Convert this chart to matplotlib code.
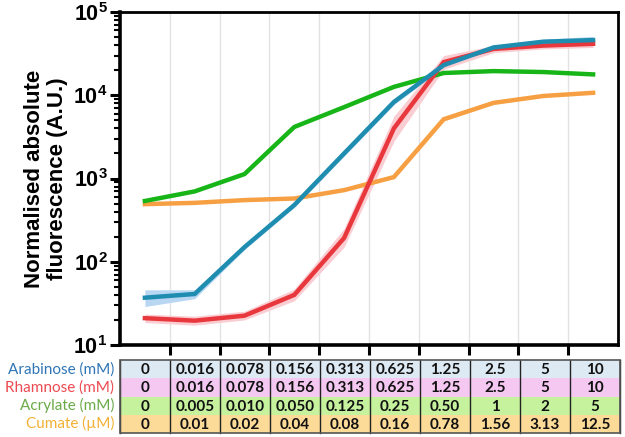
import matplotlib
matplotlib.use("Agg")
import matplotlib.pyplot as plt
from matplotlib.patches import Rectangle
from matplotlib.ticker import FixedLocator, LogLocator, NullFormatter, FuncFormatter
import numpy as np

# ---- data ----
arabinose = [37, 41, 150, 480, 2000, 8300, 23000, 37500, 44000, 46000]
arabinose_lo = [29, 36, 140, 450, 1850, 7700, 21500, 35500, 41500, 43000]
arabinose_hi = [46, 46, 160, 510, 2150, 8900, 24500, 39500, 47000, 51000]
rhamnose = [21, 19.6, 22.5, 40, 193, 4000, 25000, 36000, 39500, 41500]
rhamnose_lo = [18.6, 17.3, 20, 34, 150, 2800, 20500, 32500, 36000, 37500]
rhamnose_hi = [23.5, 22.2, 25.5, 47, 250, 5600, 30000, 39500, 43000, 45500]
acrylate = [537, 700, 1130, 4160, 7200, 12600, 18500, 19500, 19000, 17800]
cumate = [492, 510, 550, 575, 725, 1040, 5150, 8100, 9800, 10700]
cumate_lo = [480, 498, 537, 562, 705, 1010, 4900, 7800, 9500, 10400]
cumate_hi = [505, 522, 563, 588, 745, 1070, 5400, 8400, 10100, 11000]

row_labels = ["Arabinose (mM)", "Rhamnose (mM)", "Acrylate (mM)", "Cumate (µM)"]
table_values = [
    ["0", "0.016", "0.078", "0.156", "0.313", "0.625", "1.25", "2.5", "5", "10"],
    ["0", "0.016", "0.078", "0.156", "0.313", "0.625", "1.25", "2.5", "5", "10"],
    ["0", "0.005", "0.010", "0.050", "0.125", "0.25", "0.50", "1", "2", "5"],
    ["0", "0.01", "0.02", "0.04", "0.08", "0.16", "0.78", "1.56", "3.13", "12.5"],
]
ylabel = "Normalised absolute\nfluorescence (A.U.)"

# ---- style ----
plt.rcParams['font.family'] = ['Liberation Sans', 'DejaVu Sans']
plt.rcParams['mathtext.fontset'] = 'custom'
plt.rcParams['mathtext.rm'] = 'Liberation Sans:bold'
plt.rcParams['mathtext.bf'] = 'Liberation Sans:bold'
plt.rcParams['mathtext.it'] = 'Liberation Sans:bold'

c_blue = '#1f8db0'
c_red = '#e8383d'
c_green = '#17b517'
c_orange = '#f7a043'
band_blue = '#b9d7f3'
band_red = '#f9cdd2'
band_orange = '#fbd7b0'

cell_colors = ['#dde9f3', '#f5c8f2', '#c6f29e', '#fcda98']
label_colors = ['#2e75b6', '#ee4a52', '#6aab48', '#f2b134']

fig = plt.figure(figsize=(6.25, 4.37), dpi=100)
ax = fig.add_axes([120/625, 1-345/437, 498/625, 333/437])

x = np.arange(10)
ax.fill_between(x, arabinose_lo, arabinose_hi, color=band_blue, lw=0, zorder=2)
ax.fill_between(x, rhamnose_lo, rhamnose_hi, color=band_red, lw=0, zorder=2)
ax.fill_between(x, cumate_lo, cumate_hi, color=band_orange, lw=0, zorder=2)
ax.plot(x, cumate, color=c_orange, lw=3.2, zorder=3, solid_joinstyle='miter')
ax.plot(x, acrylate, color=c_green, lw=3.2, zorder=3, solid_joinstyle='miter')
ax.plot(x, rhamnose, color=c_red, lw=3.2, zorder=4, solid_joinstyle='miter')
ax.plot(x, arabinose, color=c_blue, lw=3.2, zorder=5, solid_joinstyle='miter')

ax.set_yscale('log')
ax.set_ylim(10, 1e5)
ax.set_xlim(-0.5, 9.5)
ax.xaxis.set_major_locator(FixedLocator(np.arange(0.5, 9.5, 1)))
ax.set_xticklabels([])
ax.grid(axis='x', color='#e2e2e2', lw=1, zorder=0)
ax.yaxis.set_major_locator(LogLocator(base=10, numticks=10))
ax.yaxis.set_major_formatter(FuncFormatter(
    lambda v, p: r'$\mathbf{10^{%d}}$' % int(round(np.log10(v)))))
ax.yaxis.set_minor_locator(LogLocator(base=10, subs=np.arange(2, 10), numticks=10))
ax.yaxis.set_minor_formatter(NullFormatter())
ax.tick_params(axis='y', which='major', length=7, width=2.2, labelsize=15.5, pad=2)
ax.tick_params(axis='y', which='minor', length=4, width=1.5)
ax.tick_params(axis='x', which='major', length=7, width=2.2, direction='out')
for s in ['left', 'bottom']:
    ax.spines[s].set_linewidth(2.6)
for s in ['top', 'right']:
    ax.spines[s].set_linewidth(2.0)
ax.set_ylabel(ylabel, fontsize=16, fontweight='bold', labelpad=4, linespacing=1.1)

# ---- table ----
tax = fig.add_axes([120/625, 1-433/437, 500/625, 73/437])
tax.set_xlim(-0.5, 9.5)
tax.set_ylim(4, 0)
tax.axis('off')
for r in range(4):
    for c in range(10):
        tax.add_patch(Rectangle((c-0.5, r), 1, 1, facecolor=cell_colors[r],
                                edgecolor='none', zorder=1))
        tax.text(c, r+0.55, table_values[r][c], ha='center', va='center',
                 fontsize=11, fontweight='bold', family=['Lato', 'DejaVu Sans'],
                 color='#111111', zorder=3)
    tax.text(-0.62, r+0.5, row_labels[r], ha='right', va='center',
             fontsize=11, color=label_colors[r], family=['Lato', 'DejaVu Sans'],
             clip_on=False)
for c in range(11):
    tax.plot([c-0.5, c-0.5], [0, 4], color='#222222', lw=1, zorder=4, clip_on=False)
tax.add_patch(Rectangle((-0.5, 0), 10, 4, facecolor='none', edgecolor='#555555',
                        lw=1.2, zorder=5, clip_on=False))

fig.savefig('out.png', dpi=100)
